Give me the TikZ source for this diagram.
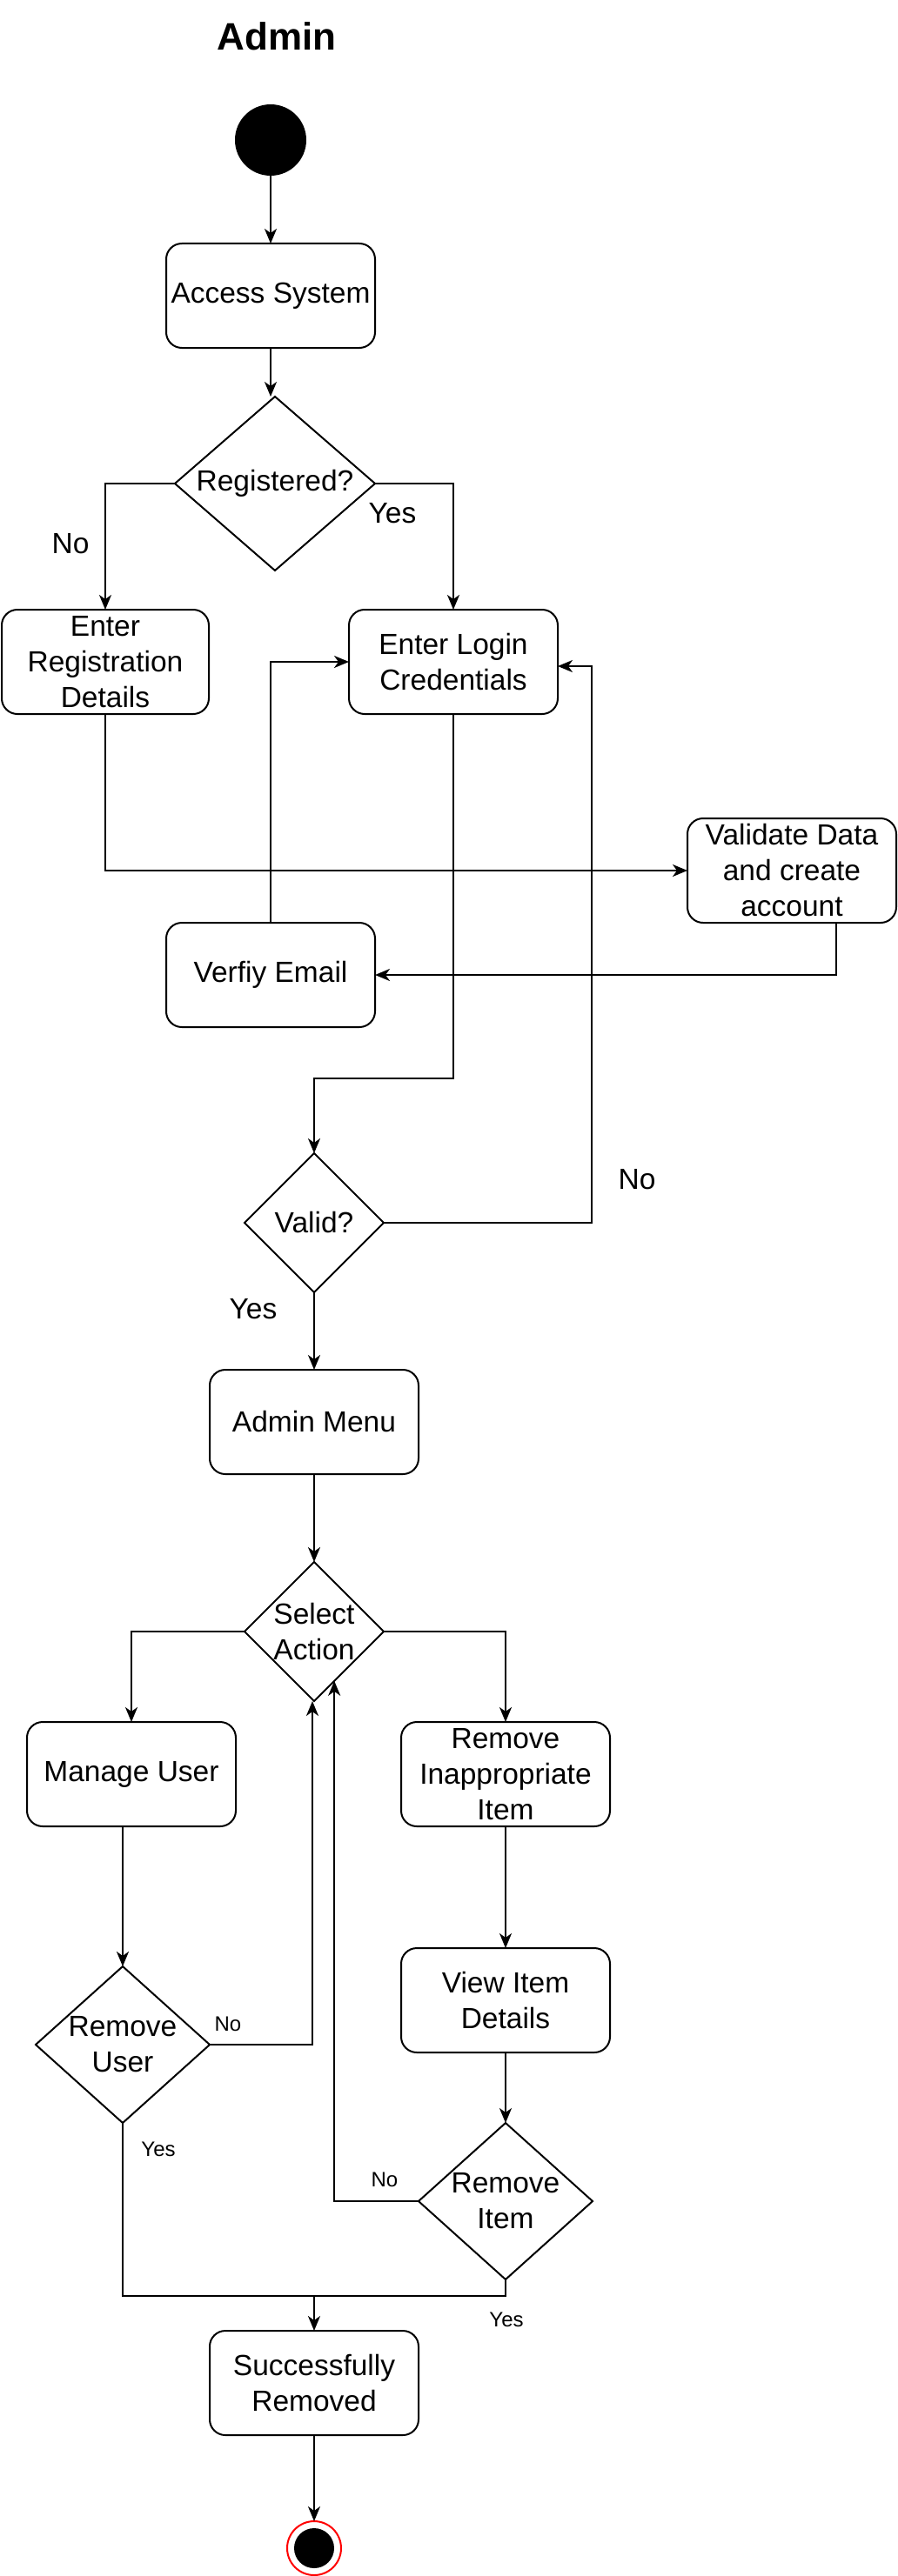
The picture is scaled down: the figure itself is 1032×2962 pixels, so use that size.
\documentclass[tikz,border=0pt]{standalone}
\usepackage{fontspec}
\setmainfont{Liberation Sans}
\usetikzlibrary{shapes.geometric,arrows.meta,calc}
\begin{document}
\begin{tikzpicture}[x=1pt,y=-1pt,
  every node/.style={outer sep=0pt},
  act/.style={draw, line width=2pt, rounded corners=18pt, minimum width=240pt, minimum height=120pt, align=center, inner sep=0pt, font=\fontsize{33.5}{41}\selectfont},
  dec/.style={draw, line width=2pt, diamond, inner sep=0pt},
  txt/.style={align=center, inner sep=0pt, font=\fontsize{33.5}{41}\selectfont},
  small/.style={inner sep=0pt, font=\fontsize{24}{29}\selectfont},
  arr/.style={line width=2pt, -{Stealth[length=17pt,width=14pt,inset=5pt]}},
  ln/.style={line width=2pt}
]
\useasboundingbox (0,0) rectangle (1032,2962);
\node[font=\fontsize{44}{50}\selectfont\bfseries, inner sep=0pt] (title) at (318,42) {Admin};

\node[circle, fill=black, minimum size=82pt, inner sep=0pt] (init) at (311,161) {};
\node[act] (access) at (311,340) {Access System};
\node[dec, minimum width=230pt, minimum height=200pt] (reg) at (316,556) {};
\node[txt] (regT) at (316,556) {Registered?};

\node[act, minimum width=238pt] (regdet) at (121,761) {Enter\\Registration\\Details};
\node[act] (login) at (521,761) {Enter Login\\Credentials};
\node[act] (validate) at (910,1001) {Validate Data\\and create\\account};
\node[act] (verify) at (311,1121) {Verfiy Email};

\node[dec, minimum width=160pt, minimum height=160pt] (valid) at (361,1406) {};
\node[txt] (validT) at (361,1406) {Valid?};

\node[act] (menu) at (361,1635) {Admin Menu};
\node[dec, minimum width=160pt, minimum height=160pt] (sel) at (361,1876) {};
\node[txt] (selT) at (361,1876) {Select\\Action};

\node[act] (manage) at (151,2040) {Manage User};
\node[act] (remove) at (581,2040) {Remove\\Inappropriate\\Item};
\node[act] (view) at (581,2300) {View Item\\Details};

\node[dec, minimum width=200pt, minimum height=180pt] (ru) at (141,2351) {};
\node[txt] (ruT) at (141,2351) {Remove\\User};
\node[dec, minimum width=200pt, minimum height=180pt] (ri) at (581,2531) {};
\node[txt] (riT) at (581,2531) {Remove\\Item};

\node[act] (succ) at (361,2740) {Successfully\\Removed};
\node[circle, draw=red, line width=2pt, fill=white, minimum size=62pt, inner sep=0pt] (fin) at (361,2930) {};
\node[circle, fill=black, minimum size=46pt, inner sep=0pt] (finin) at (361,2930) {};

% labels
\node[txt] (lNo1) at (81,625) {No};
\node[txt] (lYes1) at (451,590) {Yes};
\node[txt] (lNo2) at (732,1356) {No};
\node[txt] (lYes2) at (291,1505) {Yes};
\node[small] (lNo3) at (262,2327) {No};
\node[small] (lNo4) at (442,2506) {No};
\node[small] (lYes3) at (182,2471) {Yes};
\node[small] (lYes4) at (582,2667) {Yes};

% coordinates
\coordinate (j1) at (361,1240);
\coordinate (c1) at (680,766);
\coordinate (jn) at (361,2640);

% connectors
\draw[arr] (init) -- (access);
\draw[arr] (access.south) -- (access.south |- reg.north);
\draw[arr] (reg.west) -| (regdet.north);
\draw[arr] (reg.east) -| (login.north);
\draw[arr] (regdet.south) |- (validate.west);
\draw[arr] ([xshift=51pt]validate.south) |- (verify.east);
\draw[arr] (verify.north) |- (login.west);
\draw[arr] (login.south) |- (j1) -- (valid.north);
\draw[arr] (valid.east) -| (c1) -- (login.east |- c1);
\draw[arr] (valid.south) -- (menu.north);
\draw[arr] (menu.south) -- (sel.north);
\draw[arr] (sel.west) -| (manage.north);
\draw[arr] (sel.east) -| (remove.north);
\draw[arr] ([xshift=-10pt]manage.south) -- (ru.north);
\draw[arr] (remove.south) -- (view.north);
\draw[arr] (view.south) -- (ri.north);
\draw[arr] (ru.east) -| ([xshift=-2pt]sel.south);
\draw[arr] (ri.west) -| ($(sel.south)!0.29!(sel.east)$);
\draw[ln] (ru.south) |- (jn);
\draw[ln] (ri.south) |- (jn);
\draw[arr] (jn) -- (succ.north);
\draw[arr] (succ.south) -- (fin.north);
\end{tikzpicture}
\end{document}
